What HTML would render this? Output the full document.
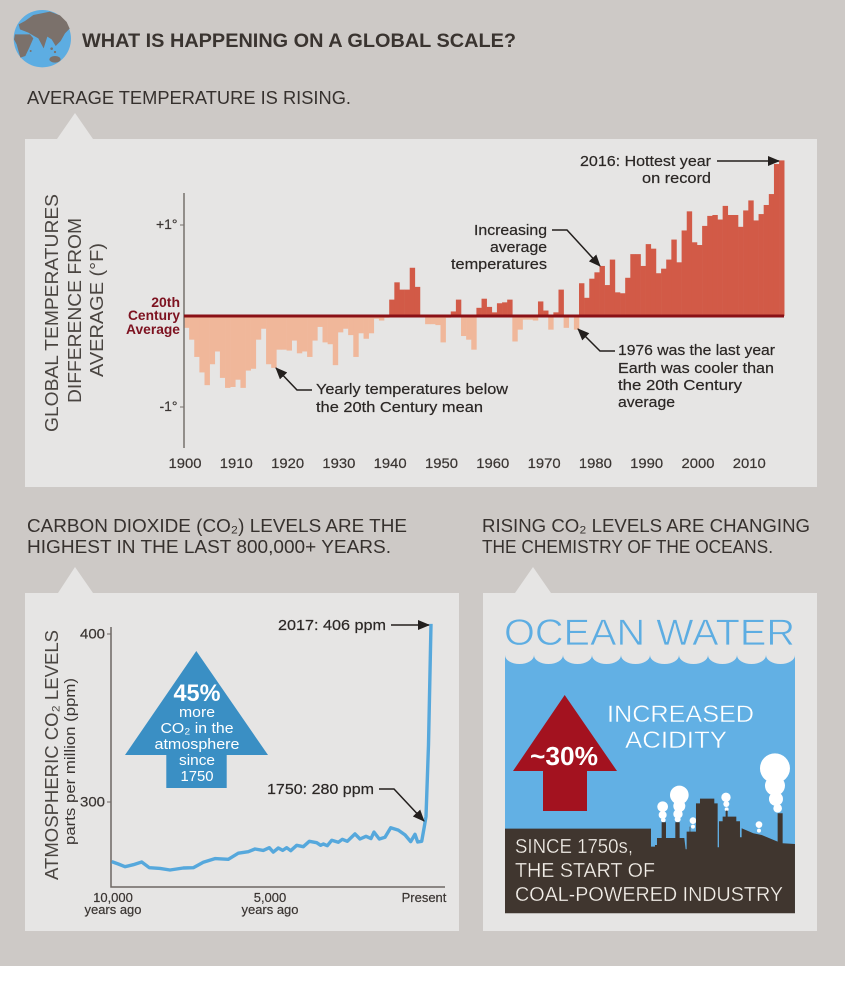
<!DOCTYPE html>
<html><head><meta charset="utf-8"><title>Global scale climate chart</title>
<style>
html,body{margin:0;padding:0;background:#fff}
svg{display:block}
text{font-family:"Liberation Sans",sans-serif;fill:#2f2a27}
.c{font-size:18.5px;fill:#36312e}
.a{font-size:15px;fill:#2b2725;stroke:#2b2725;stroke-width:.2px}
.t{font-size:14px;fill:#3a3532;stroke:#3a3532;stroke-width:.2px}
.w{fill:#fff;font-size:15px}
.br{fill:#f3efe9;font-size:20px;stroke:#40362f;stroke-width:.3px}
.bl{fill:#fff;font-size:24px;stroke:#62b0e4;stroke-width:.4px}
</style></head><body>
<svg id="root" xmlns="http://www.w3.org/2000/svg" width="845" height="994" viewBox="0 0 845 994">
<defs>
<marker id="ah" markerWidth="12" markerHeight="10" refX="11" refY="5" orient="auto" markerUnits="userSpaceOnUse"><path d="M0 0L12 5L0 10Z" fill="#231f1d"/></marker>
</defs>
<rect x="0" y="0" width="845" height="966" fill="#cdc9c6"/>

<g transform="translate(10,6) scale(0.3333)">
<circle cx="97" cy="98" r="86" fill="#5dade2"/>
<g fill="#7b716b">
<path d="M45 45L70 27L120 17L150 28L170 48L179 68L165 82L152 105L137 120L125 100L112 92L101 127L85 97L72 90L55 80L30 70L26 55Z"/>
<path d="M15 85L60 85L70 97L58 125L46 150L31 155L20 115L12 100Z"/>
<ellipse cx="135" cy="160" rx="17" ry="10"/><circle cx="125" cy="128" r="4"/><circle cx="135" cy="138" r="3.5"/><circle cx="62" cy="135" r="3"/>
</g></g>
<text x="82" y="47" font-size="19" font-weight="700" style="fill:#3a3430" textLength="434" lengthAdjust="spacingAndGlyphs">WHAT IS HAPPENING ON A GLOBAL SCALE?</text>
<text class="c" x="27" y="104" textLength="324" lengthAdjust="spacingAndGlyphs">AVERAGE TEMPERATURE IS RISING.</text>

<g>
<path d="M25 139H57L75 113L93 139H817V487H25Z" fill="#e6e5e4"/>
</g>
<g>
<text transform="translate(58,313) rotate(-90)" text-anchor="middle" font-size="18.5" textLength="238" lengthAdjust="spacingAndGlyphs" style="fill:#4a4541">GLOBAL TEMPERATURES</text>
<text transform="translate(81,310.5) rotate(-90)" text-anchor="middle" font-size="18.5" textLength="185" lengthAdjust="spacingAndGlyphs" style="fill:#4a4541">DIFFERENCE FROM</text>
<text transform="translate(103,310) rotate(-90)" text-anchor="middle" font-size="18.5" textLength="134" lengthAdjust="spacingAndGlyphs" style="fill:#4a4541">AVERAGE (°F)</text>
</g>
<g id="tempBars"></g>
<line x1="184" y1="193" x2="184" y2="448" stroke="#77716d" stroke-width="1.5"/>
<line x1="184" y1="316" x2="784" y2="316" stroke="#8a1016" stroke-width="3"/>
<g id="tempAxis"></g>
<g font-size="14" font-weight="700" text-anchor="end">
<text x="180" y="307" style="fill:#7d1220">20th</text>
<text x="180" y="320" style="fill:#7d1220" textLength="52" lengthAdjust="spacingAndGlyphs">Century</text>
<text x="180" y="334" style="fill:#7d1220" textLength="54" lengthAdjust="spacingAndGlyphs">Average</text>
</g>

<g>
<text class="a" x="711" y="166" text-anchor="end" textLength="131" lengthAdjust="spacingAndGlyphs">2016: Hottest year</text>
<text class="a" x="711" y="183" text-anchor="end" textLength="69" lengthAdjust="spacingAndGlyphs">on record</text>
<path d="M717 161H779" stroke="#231f1d" stroke-width="1.5" fill="none" marker-end="url(#ah)"/>
</g>
<g>
<text class="a" x="547" y="235" text-anchor="end" textLength="73" lengthAdjust="spacingAndGlyphs">Increasing</text>
<text class="a" x="547" y="252" text-anchor="end" textLength="57" lengthAdjust="spacingAndGlyphs">average</text>
<text class="a" x="547" y="269" text-anchor="end" textLength="96" lengthAdjust="spacingAndGlyphs">temperatures</text>
<path d="M552 230H567L600 266" stroke="#231f1d" stroke-width="1.5" fill="none" marker-end="url(#ah)"/>
</g>
<g>
<text class="a" x="316" y="394" textLength="192" lengthAdjust="spacingAndGlyphs">Yearly temperatures below</text>
<text class="a" x="316" y="412" textLength="167" lengthAdjust="spacingAndGlyphs">the 20th Century mean</text>
<path d="M312 390H297L276 368" stroke="#231f1d" stroke-width="1.5" fill="none" marker-end="url(#ah)"/>
</g>
<g>
<text class="a" x="618" y="355" textLength="157" lengthAdjust="spacingAndGlyphs">1976 was the last year</text>
<text class="a" x="618" y="373" textLength="156" lengthAdjust="spacingAndGlyphs">Earth was cooler than</text>
<text class="a" x="618" y="390" textLength="124" lengthAdjust="spacingAndGlyphs">the 20th Century</text>
<text class="a" x="618" y="407" textLength="57" lengthAdjust="spacingAndGlyphs">average</text>
<path d="M615 351H600L578 329" stroke="#231f1d" stroke-width="1.5" fill="none" marker-end="url(#ah)"/>
</g>

<g>
<text class="c" x="27" y="532" textLength="380" lengthAdjust="spacingAndGlyphs">CARBON DIOXIDE (CO₂) LEVELS ARE THE</text>
<text class="c" x="27" y="553" textLength="364" lengthAdjust="spacingAndGlyphs">HIGHEST IN THE LAST 800,000+ YEARS.</text>
</g>
<g>
<text class="c" x="482" y="532" textLength="328" lengthAdjust="spacingAndGlyphs">RISING CO₂ LEVELS ARE CHANGING</text>
<text class="c" x="482" y="553" textLength="291" lengthAdjust="spacingAndGlyphs">THE CHEMISTRY OF THE OCEANS.</text>
</g>
<path d="M25 593H58L75 567L93 593H459V931H25Z" fill="#e6e5e4"/>
<path d="M483 593H515L533 567L551 593H817V931H483Z" fill="#e6e5e4"/>

<g>
<text transform="translate(58,755) rotate(-90)" text-anchor="middle" font-size="18.5" textLength="250" lengthAdjust="spacingAndGlyphs" style="fill:#4a4541">ATMOSPHERIC CO₂ LEVELS</text>
<text transform="translate(75,761.5) rotate(-90)" text-anchor="middle" font-size="14.5" textLength="167" lengthAdjust="spacingAndGlyphs" style="fill:#3a3532">parts per million (ppm)</text>
</g>
<path d="M111 627V887H445" fill="none" stroke="#6d6763" stroke-width="1.5"/>
<g id="co2Axis"></g>
<path id="co2Line" fill="none" stroke="#56a8dc" stroke-width="3.4" stroke-linejoin="round"/>

<g>
<path d="M196.3 651L268 755H226.7V788H166.3V755H125Z" fill="#3a8fc4"/>
<text x="197" y="701" text-anchor="middle" font-size="24" font-weight="700" style="fill:#fff" textLength="47" lengthAdjust="spacingAndGlyphs">45%</text>
<text class="w" x="197" y="717" text-anchor="middle" textLength="36" lengthAdjust="spacingAndGlyphs">more</text>
<text class="w" x="197" y="733" text-anchor="middle" textLength="73" lengthAdjust="spacingAndGlyphs">CO₂ in the</text>
<text class="w" x="197" y="749" text-anchor="middle" textLength="85" lengthAdjust="spacingAndGlyphs">atmosphere</text>
<text class="w" x="197" y="765" text-anchor="middle" textLength="36" lengthAdjust="spacingAndGlyphs">since</text>
<text class="w" x="197" y="781" text-anchor="middle" textLength="33" lengthAdjust="spacingAndGlyphs">1750</text>
</g>
<g>
<text class="a" x="278" y="630" textLength="108" lengthAdjust="spacingAndGlyphs">2017: 406 ppm</text>
<path d="M391 625H429" stroke="#231f1d" stroke-width="1.5" fill="none" marker-end="url(#ah)"/>
</g>
<g>
<text class="a" x="267" y="794" textLength="107" lengthAdjust="spacingAndGlyphs">1750: 280 ppm</text>
<path d="M379 789H394L424 821" stroke="#231f1d" stroke-width="1.5" fill="none" marker-end="url(#ah)"/>
</g>

<g>
<text x="504" y="645" font-size="37" textLength="291" lengthAdjust="spacingAndGlyphs" style="fill:#5dade2;stroke:#e6e5e4;stroke-width:.7px">OCEAN WATER</text>
<path d="M505 655A14.5 9 0 0 0 534 655A14.5 9 0 0 0 563 655A14.5 9 0 0 0 592 655A14.5 9 0 0 0 621 655A14.5 9 0 0 0 650 655A14.5 9 0 0 0 679 655A14.5 9 0 0 0 708 655A14.5 9 0 0 0 737 655A14.5 9 0 0 0 766 655A14.5 9 0 0 0 795 655V913H505Z" fill="#62b0e4"/>
<path d="M564.7 695L617 771H587V811H543V771H513Z" fill="#a3121f"/>
<text x="564" y="765" text-anchor="middle" font-size="26" font-weight="700" textLength="68" lengthAdjust="spacingAndGlyphs" style="fill:#fff">~30%</text>
<text class="bl" x="607" y="722" textLength="147" lengthAdjust="spacingAndGlyphs">INCREASED</text>
<text class="bl" x="625" y="748" textLength="102" lengthAdjust="spacingAndGlyphs">ACIDITY</text>
<g transform="translate(495,600) scale(0.3333)">
<g fill="#fff">
<circle cx="840" cy="505" r="45"/><circle cx="840" cy="557" r="30"/><circle cx="843" cy="597" r="21"/><circle cx="848" cy="625" r="13"/>
<circle cx="553" cy="585" r="28"/><circle cx="553" cy="618" r="18"/><circle cx="549" cy="642" r="14"/><circle cx="548" cy="658" r="9"/>
<circle cx="503" cy="620" r="16"/><circle cx="503" cy="645" r="12"/><circle cx="505" cy="660" r="7"/>
<circle cx="693" cy="592" r="14"/><circle cx="694" cy="612" r="9"/><circle cx="695" cy="628" r="6"/>
<circle cx="594" cy="662" r="10"/><circle cx="594" cy="680" r="6"/>
<circle cx="792" cy="674" r="10"/><circle cx="792" cy="692" r="6"/>
</g>
<path fill="#40362f" d="M30 686H468V740H480V735H486V714H500V667H513V714H541V667H554V714H568L572 748H575V695H584V680H586V695H603V610H615V596H658V610H668V742H672V664H683V650H692V632H698V650H724V664H735V712H740V685L775 700L800 705L848 725V640H863V730L900 732V940H30Z"/>
</g>
<text class="br" x="515" y="853" textLength="118" lengthAdjust="spacingAndGlyphs">SINCE 1750s,</text>
<text class="br" x="515" y="877" textLength="140" lengthAdjust="spacingAndGlyphs">THE START OF</text>
<text class="br" x="515" y="901" textLength="268" lengthAdjust="spacingAndGlyphs">COAL-POWERED INDUSTRY</text>
</g>
</svg>
<script>
const tempYears = [1900,1901,1902,1903,1904,1905,1906,1907,1908,1909,1910,1911,1912,1913,1914,1915,1916,1917,1918,1919,1920,1921,1922,1923,1924,1925,1926,1927,1928,1929,1930,1931,1932,1933,1934,1935,1936,1937,1938,1939,1940,1941,1942,1943,1944,1945,1946,1947,1948,1949,1950,1951,1952,1953,1954,1955,1956,1957,1958,1959,1960,1961,1962,1963,1964,1965,1966,1967,1968,1969,1970,1971,1972,1973,1974,1975,1976,1977,1978,1979,1980,1981,1982,1983,1984,1985,1986,1987,1988,1989,1990,1991,1992,1993,1994,1995,1996,1997,1998,1999,2000,2001,2002,2003,2004,2005,2006,2007,2008,2009,2010,2011,2012,2013,2014,2015,2016];
const tempAnomaly = [-.13,-.26,-.45,-.62,-.76,-.53,-.39,-.68,-.79,-.78,-.70,-.79,-.60,-.58,-.26,-.14,-.53,-.57,-.37,-.37,-.38,-.27,-.41,-.39,-.45,-.27,-.12,-.29,-.31,-.54,-.18,-.14,-.21,-.45,-.19,-.25,-.19,-.03,-.05,-.02,.18,.37,.29,.29,.53,.32,-.01,-.09,-.09,-.10,-.29,-.02,.05,.18,-.22,-.26,-.37,.09,.19,.10,.04,.14,.15,.18,-.28,-.15,-.04,-.04,-.05,.16,.06,-.15,.04,.29,-.13,-.01,-.15,.36,.20,.41,.48,.55,.34,.62,.26,.25,.42,.68,.68,.55,.79,.74,.47,.52,.62,.84,.59,.94,1.15,.81,.78,.99,1.10,1.11,1.06,1.21,1.11,1.11,.98,1.16,1.27,1.05,1.12,1.22,1.34,1.67,1.71];
const tempXTicks = [1900,1910,1920,1930,1940,1950,1960,1970,1980,1990,2000,2010];
const tempYTicks = [1,-1];
const tempYTickLabels = ["+1°","-1°"];
const co2YearsAgo = [10001,9793,9584,9323,9062,8822,8488,8174,7757,7444,7130,6765,6347,6034,5721,5512,5251,5063,4938,4781,4646,4520,4395,4207,3998,3810,3581,3456,3372,3247,3111,2902,2777,2620,2380,2224,2036,1879,1785,1618,1441,1263,1023,814,637,501,417,292,209,156,78,0];
const co2Ppm = [264.5,263.1,261.5,262.7,264.3,260.9,260.5,259.5,260.7,260.9,264.1,266.3,265.9,269.5,270.4,272,271.2,272.8,270.2,272.6,271.2,272.8,271,274.2,273.4,276.6,275.8,274.2,275,274,277.2,276,277.8,276.6,281,278,279.6,278.2,282.1,278,279,284.7,283.3,280.4,276.4,280.8,276.2,276.6,285.3,291.3,334,406];
const co2YTicks = [400,300];
const NS = "http://www.w3.org/2000/svg";
function xTemp(y){return 184+(y-1900)*5.13;}
function yTemp(v){return 316-91*v;}
function xCo2(a){return 431-a*0.03193;}
function yCo2(p){return 802-(p-300)*1.68;}
function mk(tag,parent){const e=document.createElementNS(NS,tag);parent.appendChild(e);return e;}
const barsG=document.getElementById("tempBars");
tempYears.forEach(function(yr,i){
  const v=tempAnomaly[i];
  const r=mk("rect",barsG);
  
  
  r.setAttribute("x",xTemp(yr));
  r.setAttribute("width",5.4);
  r.setAttribute("y",Math.min(yTemp(v),yTemp(0)));
  r.setAttribute("height",Math.abs(yTemp(v)-yTemp(0)));
  r.setAttribute("fill",v>=0?"#d25a47":"#f0b79a");
});
const ta=document.getElementById("tempAxis");
tempXTicks.forEach(function(yr){
  const t=mk("text",ta);
  
  
  t.setAttribute("class","t");
  t.setAttribute("x",xTemp(yr)+1);
  t.setAttribute("y",468);
  t.setAttribute("text-anchor","middle");
  t.setAttribute("textLength",33);
  t.setAttribute("lengthAdjust","spacingAndGlyphs");
  t.textContent=yr;
});
tempYTicks.forEach(function(v,i){
  const l=mk("line",ta);
  
  
  l.setAttribute("x1",180);l.setAttribute("x2",184);
  l.setAttribute("y1",yTemp(v));l.setAttribute("y2",yTemp(v));
  l.setAttribute("stroke","#77716d");
  const t=mk("text",ta);
  
  
  t.setAttribute("class","t");
  t.setAttribute("x",177.5);
  t.setAttribute("y",yTemp(v)+4);
  t.setAttribute("text-anchor","end");
  t.textContent=tempYTickLabels[i];
});
document.getElementById("co2Line").setAttribute("d",co2YearsAgo.map(function(a,i){return (i?"L":"M")+xCo2(a).toFixed(1)+" "+yCo2(co2Ppm[i]).toFixed(1);}).join(""));
const ca=document.getElementById("co2Axis");
co2YTicks.forEach(function(p){
  const l=mk("line",ca);
  
  
  l.setAttribute("x1",107);l.setAttribute("x2",111);
  l.setAttribute("y1",yCo2(p));l.setAttribute("y2",yCo2(p));
  l.setAttribute("stroke","#6d6763");
  const t=mk("text",ca);
  
  
  t.setAttribute("class","t");
  t.setAttribute("x",105);
  t.setAttribute("y",yCo2(p)+4.5);
  t.setAttribute("text-anchor","end");
  t.setAttribute("textLength",25);
  t.setAttribute("lengthAdjust","spacingAndGlyphs");
  t.textContent=p;
});
const co2XLabels = [[10000,"10,000","years ago",113],[5000,"5,000","years ago",270],[0,"Present","",424]];
co2XLabels.forEach(function(d){
  const a=mk("text",ca);
  
  
  a.setAttribute("class","t");
  a.style.fontSize="13px";
  a.setAttribute("x",d[3]);a.setAttribute("y",902);a.setAttribute("text-anchor","middle");
  a.textContent=d[1];
  if(d[2]){
    const b=mk("text",ca);
    
    
    b.setAttribute("class","t");
    b.style.fontSize="13px";
    b.setAttribute("x",d[3]);b.setAttribute("y",914);b.setAttribute("text-anchor","middle");
    b.setAttribute("textLength",57);
    b.setAttribute("lengthAdjust","spacingAndGlyphs");
    b.textContent=d[2];
  }
});
</script>
</body></html>
